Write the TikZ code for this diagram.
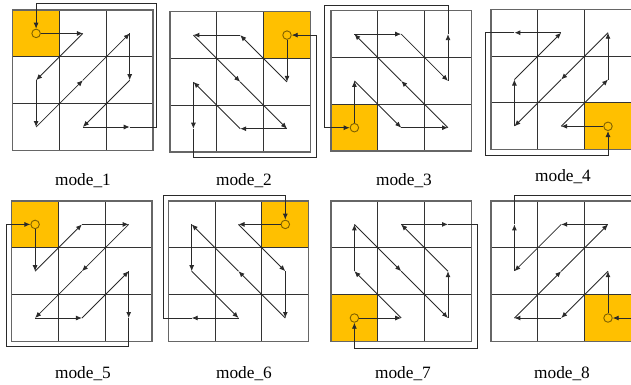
\documentclass[tikz,border=0pt]{standalone}
\usepackage{fontspec}
\setmainfont{Liberation Serif}
\usetikzlibrary{arrows.meta}
\definecolor{cellyellow}{HTML}{FFC000}
\definecolor{ringcol}{HTML}{7F6000}
\definecolor{linecol}{HTML}{2A2A2A}
\newcommand\modegrid[3]{%
  \fill[cellyellow] (#2,#3) rectangle ++(1,1);
  \draw[gridin] (1,0) -- (1,3) (2,0) -- (2,3) (0,1) -- (3,1) (0,2) -- (3,2);
  \draw[gridout] (0,0) rectangle (3,3);
  \foreach \i in {0,1,2}{\foreach \j in {0,1,2}{\coordinate (#1\i\j) at (\i+0.5,\j+0.5);}}
  \node[ring] (#1o) at (#2+0.5,#3+0.5) {};
}
\begin{document}
\begin{tikzpicture}[x=1pt,y=-1pt,
  gridin/.style={draw=black!80, line width=1.1pt},
  gridout/.style={draw=black!60, line width=1.5pt},
  arr/.style={draw=linecol, line width=0.85pt, -{Latex[length=6pt,width=5pt]}},
  ring/.style={circle, draw=ringcol, line width=0.9pt, minimum size=8.5pt, inner sep=0pt, fill=cellyellow},
  lab/.style={font=\fontsize{17.3}{17.3}\selectfont, anchor=base}]
\useasboundingbox (0,0) rectangle (631,384);

% mode_1
\begin{scope}[shift={(12.7,10)},x=46.8pt,y=-46.8pt]
\modegrid{a}{0}{0}
\draw[arr] (ao) -- (a10);
\draw[arr] (a10) -- (a01);
\draw[arr] (a01) -- (a02);
\draw[arr] (a02) -- (a11);
\draw[arr] (a11) -- (a20);
\draw[arr] (a20) -- (a21);
\draw[arr] (a21) -- (a12);
\draw[arr] (a12) -- (a22);
\draw[arr] (a22) -- (3.08,2.5) -- (3.08,-0.13) -- (0.5,-0.13) -- (ao);
\end{scope}

% mode_2
\begin{scope}[shift={(170,11.7)},x=46.8pt,y=-46.8pt]
\modegrid{b}{2}{0}
\draw[arr] (bo) -- (b21);
\draw[arr] (b21) -- (b10);
\draw[arr] (b10) -- (b00);
\draw[arr] (b00) -- (b11);
\draw[arr] (b11) -- (b22);
\draw[arr] (b22) -- (b12);
\draw[arr] (b12) -- (b01);
\draw[arr] (b01) -- (b02);
\draw[arr] (b02) -- (0.5,3.11) -- (3.13,3.11) -- (3.13,0.5) -- (bo);
\end{scope}

% mode_3
\begin{scope}[shift={(331,10.7)},x=46.8pt,y=-46.8pt]
\modegrid{c}{0}{2}
\draw[arr] (co) -- (c01);
\draw[arr] (c01) -- (c12);
\draw[arr] (c12) -- (c22);
\draw[arr] (c22) -- (c11);
\draw[arr] (c11) -- (c00);
\draw[arr] (c00) -- (c10);
\draw[arr] (c10) -- (c21);
\draw[arr] (c21) -- (c20);
\draw[arr] (c20) -- (2.5,-0.12) -- (-0.13,-0.12) -- (-0.13,2.5) -- (co);
\end{scope}

% mode_4
\begin{scope}[shift={(491,9.3)},x=46.8pt,y=-46.8pt]
\modegrid{d}{2}{2}
\draw[arr] (do) -- (d12);
\draw[arr] (d12) -- (d21);
\draw[arr] (d21) -- (d20);
\draw[arr] (d20) -- (d11);
\draw[arr] (d11) -- (d02);
\draw[arr] (d02) -- (d01);
\draw[arr] (d01) -- (d10);
\draw[arr] (d10) -- (d00);
\draw[arr] (d00) -- (-0.12,0.5) -- (-0.12,3.12) -- (2.5,3.12) -- (do);
\end{scope}

% mode_5
\begin{scope}[shift={(11.7,201)},x=46.8pt,y=-46.8pt]
\modegrid{e}{0}{0}
\draw[arr] (eo) -- (e01);
\draw[arr] (e01) -- (e10);
\draw[arr] (e10) -- (e20);
\draw[arr] (e20) -- (e11);
\draw[arr] (e11) -- (e02);
\draw[arr] (e02) -- (e12);
\draw[arr] (e12) -- (e21);
\draw[arr] (e21) -- (e22);
\draw[arr] (e22) -- (2.5,3.11) -- (-0.12,3.11) -- (-0.12,0.5) -- (eo);
\end{scope}

% mode_6
\begin{scope}[shift={(168.3,201)},x=46.8pt,y=-46.8pt]
\modegrid{f}{2}{0}
\draw[arr] (fo) -- (f10);
\draw[arr] (f10) -- (f21);
\draw[arr] (f21) -- (f22);
\draw[arr] (f22) -- (f11);
\draw[arr] (f11) -- (f00);
\draw[arr] (f00) -- (f01);
\draw[arr] (f01) -- (f12);
\draw[arr] (f12) -- (f02);
\draw[arr] (f02) -- (-0.11,2.5) -- (-0.11,-0.11) -- (2.5,-0.11) -- (fo);
\end{scope}

% mode_7
\begin{scope}[shift={(331,201)},x=46.8pt,y=-46.8pt]
\modegrid{g}{0}{2}
\draw[arr] (go) -- (g12);
\draw[arr] (g12) -- (g01);
\draw[arr] (g01) -- (g00);
\draw[arr] (g00) -- (g11);
\draw[arr] (g11) -- (g22);
\draw[arr] (g22) -- (g21);
\draw[arr] (g21) -- (g10);
\draw[arr] (g10) -- (g20);
\draw[arr] (g20) -- (3.12,0.5) -- (3.12,3.15) -- (0.5,3.15) -- (go);
\end{scope}

% mode_8
\begin{scope}[shift={(491,201)},x=46.8pt,y=-46.8pt]
\modegrid{h}{2}{2}
\draw[arr] (ho) -- (h21);
\draw[arr] (h21) -- (h12);
\draw[arr] (h12) -- (h02);
\draw[arr] (h02) -- (h11);
\draw[arr] (h11) -- (h20);
\draw[arr] (h20) -- (h10);
\draw[arr] (h10) -- (h01);
\draw[arr] (h01) -- (h00);
\draw[arr] (h00) -- (0.5,-0.11) -- (3.15,-0.11) -- (3.15,2.5) -- (ho);
\end{scope}

% labels
\node[lab] (l1) at (83,185) {mode\_1};
\node[lab] (l2) at (244,185) {mode\_2};
\node[lab] (l3) at (404,185) {mode\_3};
\node[lab] (l4) at (563,181) {mode\_4};
\node[lab] (l5) at (83,378) {mode\_5};
\node[lab] (l6) at (244,378) {mode\_6};
\node[lab] (l7) at (403,378) {mode\_7};
\node[lab] (l8) at (562,378) {mode\_8};
\end{tikzpicture}
\end{document}
